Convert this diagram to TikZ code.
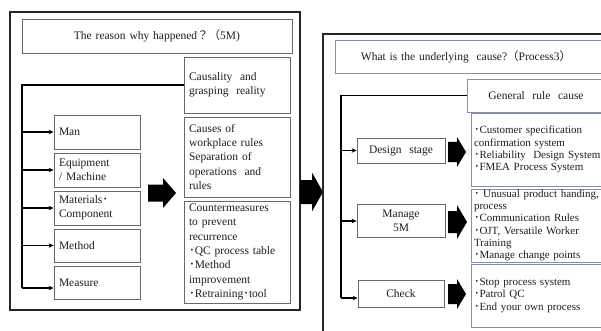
\documentclass[tikz,border=0pt]{standalone}
\usepackage{fontspec}
\setmainfont{Liberation Serif}
\newfontfamily\cjk{Noto Sans CJK JP}
\usetikzlibrary{arrows.meta}
\newcommand{\fw}[1]{{\cjk #1}}
\newcommand{\blockarr}[6]{%
  \fill[black] ({#1},{#4-#5/2}) -- ({#2},{#4-#5/2}) -- ({#2},{#4-#6/2}) -- ({#3},{#4})
    -- ({#2},{#4+#6/2}) -- ({#2},{#4+#5/2}) -- ({#1},{#4+#5/2}) -- cycle;}
\definecolor{boxgray}{RGB}{105,105,105}
\definecolor{bluegray}{RGB}{130,145,165}
\definecolor{txt}{RGB}{30,30,30}
\begin{document}
\begin{tikzpicture}[x=1pt,y=-1pt,
  outer/.style={draw=black!85, line width=1.3pt},
  lbox/.style={draw=boxgray, line width=0.8pt, rectangle, inner xsep=5pt, inner ysep=0pt,
    align=left, text=txt, font=\fontsize{11.5}{14.3}\selectfont},
  cbox/.style={draw=boxgray, line width=0.8pt, rectangle, inner xsep=4pt, inner ysep=0pt,
    align=center, text=txt, font=\fontsize{11.5}{14.3}\selectfont},
  rbox/.style={draw=bluegray, line width=0.8pt, rectangle, inner xsep=3pt, inner ysep=0pt,
    align=left, text=txt, font=\fontsize{11}{12.3}\selectfont},
  conn/.style={line width=1.7pt, black},
  tip/.style={-{Stealth[length=5pt,width=4.5pt]}}
]
\useasboundingbox (0,0) rectangle (601,331);
\fill[white] (0,0) rectangle (601,331);
\clip (0,0) rectangle (601,331);

% ---------- left panel ----------
\draw[outer] (10,12) rectangle (300,310);
\node[cbox, text width=262, minimum height=34] (titleL) at (157,36)
  {The reason why happened\fw{？（}5M)};
\node[lbox, text width=96, minimum height=56] (causal) at (237,85)
  {Causality\ \ and\\grasping\ \ reality};
\node[lbox, text width=96, minimum height=80] (causes) at (237,157)
  {Causes of\\workplace rules\\Separation of\\operations\ \ and\\rules};
\node[lbox, text width=96, minimum height=102] (counter) at (237,252)
  {Countermeasures\\to prevent\\recurrence\\\fw{･}QC process table\\\fw{･}Method\\improvement\\\fw{･}Retraining\fw{･}tool};
\node[lbox, text width=76, minimum height=34] (man) at (97,132) {Man};
\node[lbox, text width=76, minimum height=34] (equip) at (97,170) {Equipment\\/ Machine};
\node[lbox, text width=76, minimum height=34] (mater) at (97,208) {Materials\fw{･}\\Component};
\node[lbox, text width=76, minimum height=33] (method) at (97,245.5) {Method};
\node[lbox, text width=76, minimum height=33] (measure) at (97,282.5) {Measure};

\coordinate (bL) at (22,288);
\draw[conn] (causal.west) -| (bL);
\draw[conn,tip] (bL) -- (bL -| measure.west);
\draw[conn,tip] (bL |- man.west) -- (man.west);
\draw[conn,tip] (bL |- equip.west) -- (equip.west);
\draw[conn,tip] (bL |- mater.west) -- (mater.west);
\draw[conn,tip] (bL |- method.west) -- (method.west);

\blockarr{148}{163}{176}{193}{17}{30}

% ---------- between panels ----------
\blockarr{300}{312}{323}{192}{24}{39}

% ---------- right panel ----------
\draw[outer] (612,34) -- (323,34) -- (323,340);
\node[cbox, draw=bluegray, text width=267, minimum height=33] (titleR) at (472.5,56.5)
  {\hspace*{-13pt}What is the underlying\ \ cause?\fw{（}Process3\fw{）}};
\node[cbox, draw=bluegray, text width=130, minimum height=33] (general) at (536,95.5)
  {General\ \ rule\ \ cause};
\node[rbox, text width=134, minimum height=73] (c1) at (541,149.5)
  {\fw{･}Customer specification\\confirmation system\\\fw{･}Reliability\ \ Design System\\\fw{･}FMEA Process System};
\node[rbox, text width=134, minimum height=73] (c2) at (541,225.5)
  {\fw{･} Unusual product handing,\\process\\\fw{･}Communication Rules\\\fw{･}OJT, Versatile Worker\\Training\\\fw{･}Manage change points};
\node[rbox, text width=134, minimum height=63] (c3) at (541,295.5)
  {\fw{･}Stop process system\\\fw{･}Patrol QC\\\fw{･}End your own process};

\node[cbox, text width=80, minimum height=25] (design) at (401,150.5) {Design\ \ stage};
\node[cbox, text width=80, minimum height=33] (manage) at (401,221) {Manage\\5M};
\node[cbox, text width=78, minimum height=27] (check) at (401,293.5) {Check};

\coordinate (bR) at (341,298);
\draw[conn] (general.west) -| (bR);
\draw[conn,tip] (bR) -- (bR -| check.west);
\draw[conn,tip] (bR |- design.west) -- (design.west);
\draw[conn,tip] (bR |- manage.west) -- (manage.west);

\blockarr{448}{457}{466}{152}{20}{30}
\blockarr{448}{457}{467}{222}{22}{34}
\blockarr{448}{457}{466}{294}{20}{30}
\end{tikzpicture}
\end{document}
